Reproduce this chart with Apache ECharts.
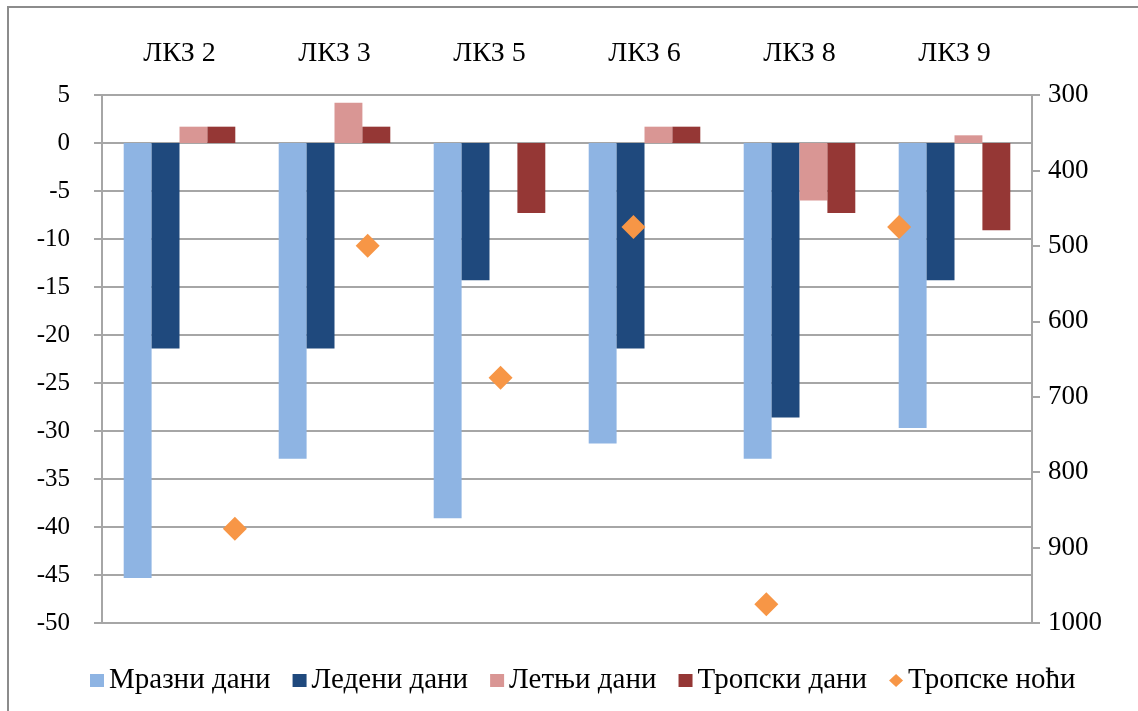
<!DOCTYPE html>
<html>
<head>
<meta charset="utf-8">
<title>ЛКЗ</title>
<script src="https://cdn.jsdelivr.net/npm/echarts@6/dist/echarts.min.js"></script>
<style>
  html, body { margin: 0; padding: 0; background: #fff; }
  #main { width: 1138px; height: 711px; }
</style>
</head>
<body>
<div id="main"></div>
<script>
// stanice
var stanice = ['ЛКЗ 2', 'ЛКЗ 3', 'ЛКЗ 5', 'ЛКЗ 6', 'ЛКЗ 8', 'ЛКЗ 9'];
// promene broja dana (leva osa)
var mrazniDani = [-45.3, -32.9, -39.1, -31.3, -32.9, -29.7];
var ledeniDani = [-21.4, -21.4, -14.3, -21.4, -28.6, -14.3];
var letnjiDani = [1.7, 4.2, 0, 1.7, -6.0, 0.8];
var tropskiDani = [1.7, 1.7, -7.3, 1.7, -7.3, -9.1];
// tropske noci (desna osa, obrnuta)
var tropskeNoci = [875, 500, 675, 475, 975, 475];
var redniBroj = [1, 2, 3, 4, 5, 6];

var font = '"Liberation Serif", "Times New Roman", serif';
var sivo = '#a6a6a6';

var myChart = echarts.init(document.getElementById('main'));

var option = {
    backgroundColor: '#fff',
    animation: false,
    textStyle: { fontFamily: font, color: '#000' },
    graphic: [{
        type: 'rect',
        shape: { x: 8, y: 7, width: 1140, height: 720 },
        style: { fill: 'none', stroke: '#8c8c8c', lineWidth: 2 }
    }],
    grid: { left: 102, right: 106, top: 95, bottom: 88 },
    legend: {
        bottom: 11,
        left: 85,
        itemWidth: 14,
        itemHeight: 13,
        itemGap: 22,
        textStyle: { fontFamily: font, fontSize: 29, color: '#000' },
        data: [
            { name: 'Мразни дани', icon: 'rect' },
            { name: 'Ледени дани', icon: 'rect' },
            { name: 'Летњи дани', icon: 'rect' },
            { name: 'Тропски дани', icon: 'rect' },
            { name: 'Тропске ноћи', icon: 'diamond' }
        ]
    },
    xAxis: [
        {
            // nazivi stanica gore
            type: 'category',
            position: 'top',
            data: stanice,
            axisLine: { show: false },
            axisTick: { show: false },
            axisLabel: { fontFamily: font, fontSize: 28, color: '#000', margin: 27 }
        },
        {
            // osa na nuli sa crticama
            type: 'category',
            position: 'bottom',
            data: stanice,
            axisLine: { onZero: true, onZeroAxisIndex: 0, lineStyle: { color: sivo, width: 2 } },
            axisTick: { inside: true, length: 8, lineStyle: { color: sivo, width: 2 } },
            axisLabel: { show: false }
        },
        {
            type: 'value',
            min: 0,
            max: 7,
            show: false
        }
    ],
    yAxis: [
        {
            type: 'value',
            min: -50,
            max: 5,
            interval: 5,
            axisLine: { show: true, lineStyle: { color: sivo, width: 2 } },
            axisTick: { show: true, length: 8, lineStyle: { color: sivo, width: 2 } },
            axisLabel: { fontFamily: font, fontSize: 25, color: '#000', margin: 32 },
            splitLine: { lineStyle: { color: sivo, width: 2 } }
        },
        {
            type: 'value',
            inverse: true,
            min: 300,
            max: 1000,
            interval: 100,
            position: 'right',
            axisLine: { show: true, lineStyle: { color: sivo, width: 2 } },
            axisTick: { show: true, length: 8, lineStyle: { color: sivo, width: 2 } },
            axisLabel: {
                fontFamily: font, fontSize: 27, color: '#000', margin: 16,
                formatter: function (v) { return String(v); }
            },
            splitLine: { show: false }
        }
    ],
    series: [
        {
            name: 'Мразни дани',
            type: 'bar',
            barGap: '0%',
            barCategoryGap: '28%',
            itemStyle: { color: '#8eb4e3' },
            data: mrazniDani
        },
        {
            name: 'Ледени дани',
            type: 'bar',
            itemStyle: { color: '#1f497d' },
            data: ledeniDani
        },
        {
            name: 'Летњи дани',
            type: 'bar',
            itemStyle: { color: '#d99694' },
            data: letnjiDani
        },
        {
            name: 'Тропски дани',
            type: 'bar',
            itemStyle: { color: '#953735' },
            data: tropskiDani
        },
        {
            name: 'Тропске ноћи',
            type: 'scatter',
            xAxisIndex: 2,
            yAxisIndex: 1,
            symbol: 'diamond',
            symbolSize: 24,
            itemStyle: { color: '#f79646', opacity: 1 },
            data: redniBroj.map(function (x, i) { return [x, tropskeNoci[i]]; })
        }
    ]
};

myChart.setOption(option);
</script>
</body>
</html>
